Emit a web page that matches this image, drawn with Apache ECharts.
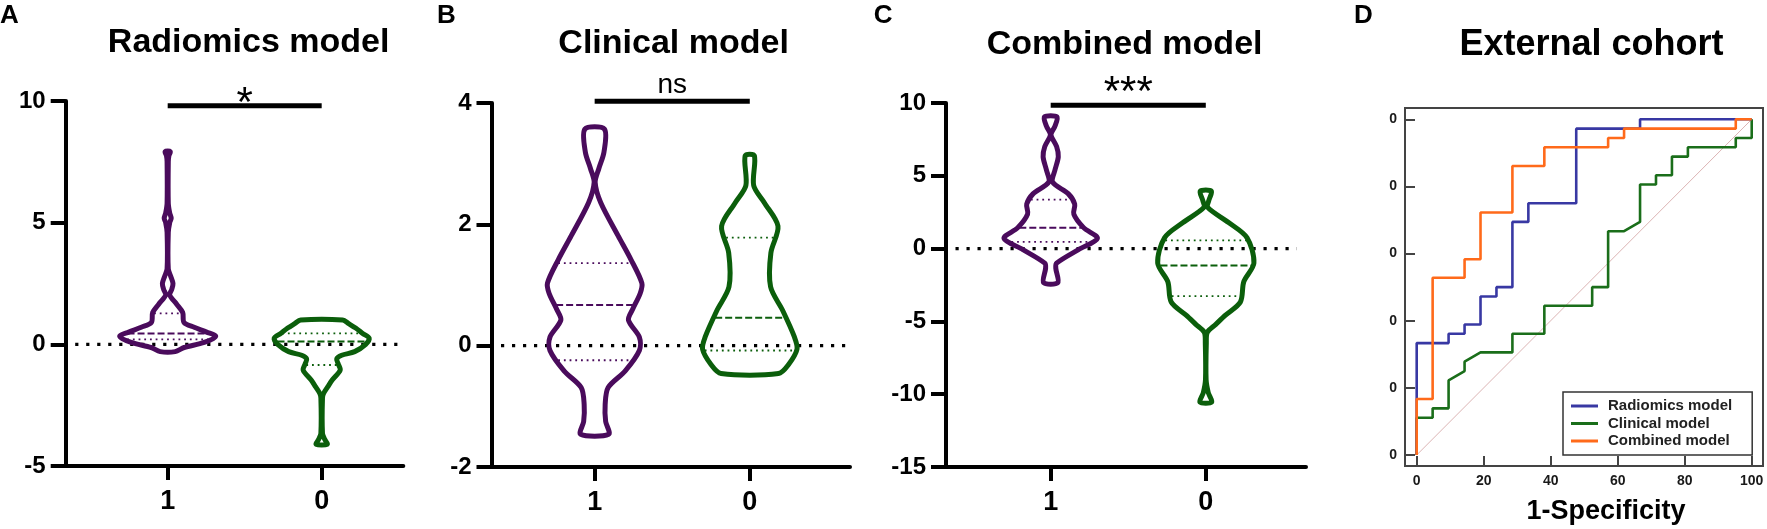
<!DOCTYPE html>
<html><head><meta charset="utf-8">
<script src="https://cdn.jsdelivr.net/npm/echarts@6/dist/echarts.min.js"></script>
<style>html,body{margin:0;padding:0;background:#fff}#c{width:1767px;height:529px}</style>
</head><body><div id="c"></div>
<script>
// ================= DATA =================
const categories = ['1', '0'];
const panelLetters = ['A', 'B', 'C', 'D'];
const panelTitles = ['Radiomics model', 'Clinical model', 'Combined model', 'External cohort'];
const significance = ['*', 'ns', '***'];
const sigLevel = [9.8, 4.03, 9.85];
const referenceValue = 0;

// violin density profiles: [value, relative half-width] bottom -> top
const radiomicsPos = [[-0.30,7.5],[-0.13,16.5],[0.08,36.5],[0.33,48],[0.5,39],[0.7,26.5],[0.9,16.3],[1.31,15],[1.65,9],[2.03,2],[2.25,4],[2.5,5.3],[2.8,3],[3.1,0.6],[4.6,0.6],[5.0,2],[5.18,3.5],[5.4,2],[5.8,0.6],[7.5,0.6],[7.75,1.2],[7.92,2.6]];
const radiomicsNeg = [[-4.11,5.5],[-3.9,3],[-3.66,0.8],[-2.2,0.8],[-2.01,2],[-1.75,6],[-1.47,10.5],[-1.06,18.5],[-0.8,16.5],[-0.6,15],[-0.45,20],[-0.3,33],[0.0,44],[0.25,47.5],[0.45,41],[0.67,34],[0.85,27],[1.0,21]];
const clinicalPos = [[-1.46,14],[-1.25,11],[-0.97,10.5],[-0.69,13.5],[-0.42,30.4],[-0.08,44.7],[0.14,44.7],[0.42,33.8],[0.6,38],[0.86,45.5],[1.03,47.2],[1.42,36.3],[1.81,23.5],[2.36,6],[2.69,0.5],[2.92,4.2],[3.19,9.3],[3.57,9.8]];
const clinicalNeg = [[-0.46,28.7],[-0.31,38.8],[-0.06,47.2],[0.14,44.7],[0.58,32.9],[0.97,20.8],[1.53,21.1],[1.97,28.2],[2.36,14.4],[2.64,3.9],[3.13,4.6]];
const combinedPos = [[-2.34,7.1],[-1.35,5.1],[-1.0,5.9],[-0.07,27.8],[0.70,46.7],[1.44,32.9],[2.37,23.1],[3.06,24],[3.76,17.7],[4.57,1.9],[5.38,4.2],[6.31,7.6],[7.01,5.9],[7.82,0.3],[8.40,4.2],[9.05,6.3]];
const combinedNeg = [[-10.55,5.9],[-9.9,2.5],[-9.0,0.3],[-6.5,0.5],[-5.75,1.5],[-5.2,10],[-4.59,19.4],[-3.67,34.6],[-2.27,38],[-1.0,48.1],[0.74,41.3],[1.79,22.8],[2.83,1.9],[3.3,3],[3.94,5.6]];

// quartiles [Q1, median, Q3]
const radiomicsPosQ = [0.2, 0.45, 1.27];
const radiomicsNegQ = [-0.85, 0.12, 0.45];
const clinicalPosQ = [-0.24, 0.67, 1.36];
const clinicalNegQ = [-0.08, 0.46, 1.78];
const combinedPosQ = [0.46, 1.44, 3.36];
const combinedNegQ = [-3.27, -1.16, 0.56];

// ROC curves (1-specificity, sensitivity) in %
const rocRadiomics = [[0,0],[0,33.33],[9.52,33.33],[9.52,36.11],[14.29,36.11],[14.29,38.89],[19.05,38.89],[19.05,47.22],[23.81,47.22],[23.81,50],[28.57,50],[28.57,69.44],[33.33,69.44],[33.33,75],[47.62,75],[47.62,97.22],[66.67,97.22],[66.67,100],[100,100]];
const rocClinical = [[0,0],[0,11.11],[4.76,11.11],[4.76,13.89],[9.52,13.89],[9.52,22.22],[14.29,25],[14.29,27.78],[19.05,30.56],[28.57,30.56],[28.57,36.11],[38.1,36.11],[38.1,44.44],[52.38,44.44],[52.38,50],[57.14,50],[57.14,66.67],[61.9,66.67],[66.67,69.44],[66.67,80.56],[71.43,80.56],[71.43,83.33],[76.19,83.33],[76.19,88.89],[80.95,88.89],[80.95,91.67],[95.24,91.67],[95.24,94.44],[100,94.44],[100,100]];
const rocCombined = [[0,0],[0,16.67],[4.76,16.67],[4.76,52.78],[14.29,52.78],[14.29,58.33],[19.05,58.33],[19.05,72.22],[28.57,72.22],[28.57,86.11],[38.1,86.11],[38.1,91.67],[57.14,91.67],[57.14,94.44],[61.9,94.44],[61.9,97.22],[95.24,97.22],[95.24,100],[100,100]];
const rocReference = [[0,0],[100,100]];
const rocSeriesNames = ['Radiomics model', 'Clinical model', 'Combined model'];
const rocTicks = [0, 20, 40, 60, 80, 100];
const rocYTickLabels = ['0', '0', '0', '0', '0', '0'];
const rocXTickLabels = ['0', '20', '40', '60', '80', '100'];
const rocXName = '1-Specificity';

// ================= STYLE =================
const FF = '"Liberation Sans", Arial, Helvetica, sans-serif';
const PURPLE = '#4a0b5c', GREEN = '#0b5e0b';
const ROC_BLUE = '#3838a3', ROC_GREEN = '#1a6e1a', ROC_ORANGE = '#ff6a1a';
const grids = [
  {left: 65.7, top: 101, width: 337.6, height: 365},
  {left: 491.5, top: 103, width: 358.5, height: 364},
  {left: 946, top: 103, width: 360, height: 364},
  {left: 1405, top: 108, width: 358, height: 358}
];
const xRanges = [[0.3377, 2.53], [0.335, 2.646], [0.325, 2.646]];
const yRanges = [[-5, 10, 5], [-2, 4, 2], [-15, 10, 5]];
const zeroInset = [[9.5, 1.7], [9.5, 0], [9.5, -9.3]];
const sigTextDy = [-1.8, -16.3, -11.3];
const sigFont = ['42px', '28px', '42px'];

const violins = [
  [0, 1, radiomicsPos, radiomicsPosQ, PURPLE], [0, 2, radiomicsNeg, radiomicsNegQ, GREEN],
  [1, 1, clinicalPos, clinicalPosQ, PURPLE], [1, 2, clinicalNeg, clinicalNegQ, GREEN],
  [2, 1, combinedPos, combinedPosQ, PURPLE], [2, 2, combinedNeg, combinedNegQ, GREEN]
];

function widthAt(profile, v) {
  for (let i = 0; i < profile.length - 1; i++) {
    const a = profile[i], b = profile[i + 1];
    if (v >= a[0] && v <= b[0]) return a[1] + (b[1] - a[1]) * (v - a[0]) / (b[0] - a[0]);
  }
  return 0;
}

const xAxes = [], yAxes = [], series = [];
for (let i = 0; i < 3; i++) {
  xAxes.push({
    gridIndex: i, type: 'value', min: xRanges[i][0], max: xRanges[i][1],
    axisLine: {show: true, onZero: false, lineStyle: {color: '#000', width: 4}},
    axisTick: {show: true, length: 14, customValues: [1, 2], lineStyle: {color: '#000', width: 4}},
    axisLabel: {customValues: [1, 2], formatter: v => categories[Math.round(v) - 1], margin: 22,
      fontSize: 27, fontWeight: 'bold', color: '#000', fontFamily: FF},
    splitLine: {show: false}
  });
  yAxes.push({
    gridIndex: i, type: 'value', min: yRanges[i][0], max: yRanges[i][1], interval: yRanges[i][2],
    axisLine: {show: true, onZero: false, lineStyle: {color: '#000', width: 4}},
    axisTick: {show: true, length: 15, lineStyle: {color: '#000', width: 4}},
    axisLabel: {margin: 20, fontSize: 24, fontWeight: 'bold', color: '#000', fontFamily: FF},
    splitLine: {show: false}
  });
  // zero reference dotted line
  series.push({
    type: 'custom', xAxisIndex: i, yAxisIndex: i, z: 1, clip: false, silent: true,
    data: [[xRanges[i][0], referenceValue]],
    renderItem: (function (idx) {
      return function (params, api) {
        const a = api.coord([xRanges[idx][0], referenceValue]);
        const b = api.coord([xRanges[idx][1], referenceValue]);
        return {type: 'line', shape: {x1: a[0] + zeroInset[idx][0], y1: a[1], x2: b[0] + zeroInset[idx][1], y2: b[1]},
          style: {stroke: '#000', lineWidth: 3.2, lineDash: [3.2, 7.8]}};
      };
    })(i)
  });
  // significance bar
  series.push({
    type: 'custom', xAxisIndex: i, yAxisIndex: i, z: 5, clip: false, silent: true,
    data: [[1.5, sigLevel[i]]],
    renderItem: (function (idx) {
      return function (params, api) {
        const a = api.coord([1, sigLevel[idx]]), b = api.coord([2, sigLevel[idx]]);
        return {type: 'group', children: [
          {type: 'line', shape: {x1: a[0], y1: a[1], x2: b[0], y2: b[1]}, style: {stroke: '#000', lineWidth: 5}},
          {type: 'text', x: (a[0] + b[0]) / 2, y: a[1] + sigTextDy[idx],
            style: {text: significance[idx], font: 'normal ' + sigFont[idx] + ' ' + FF, fill: '#000', align: 'center', verticalAlign: 'middle'}}
        ]};
      };
    })(i)
  });
}

violins.forEach(function (vd) {
  const [gi, cat, profile, quart, color] = vd;
  const pxPerUnit = grids[gi].width / (xRanges[gi][1] - xRanges[gi][0]);
  const k = 1 / pxPerUnit;
  series.push({
    type: 'custom', xAxisIndex: gi, yAxisIndex: gi, z: 3, clip: false, silent: true,
    data: [[cat, quart[1]]],
    renderItem: function (params, api) {
      const right = profile.map(p => api.coord([cat + p[1] * k, p[0]]));
      const left = profile.slice().reverse().map(p => api.coord([cat - p[1] * k, p[0]]));
      const children = [{type: 'polygon', shape: {points: right.concat(left), smooth: 0.3},
        style: {fill: 'none', stroke: color, lineWidth: 5, lineJoin: 'round'}}];
      quart.forEach(function (q, qi) {
        const w = widthAt(profile, q);
        const a = api.coord([cat - w * k, q]), b = api.coord([cat + w * k, q]);
        children.push({type: 'line', shape: {x1: a[0] + 1.5, y1: a[1], x2: b[0] - 1.5, y2: b[1]},
          style: {stroke: color, lineWidth: qi === 1 ? 2 : 1.8, lineDash: qi === 1 ? [7, 3] : [1.8, 3.9]}});
      });
      return {type: 'group', children: children};
    }
  });
});

// ROC panel axes
xAxes.push({
  gridIndex: 3, type: 'value', min: -3.49, max: 103.37,
  axisLine: {show: true, onZero: false, lineStyle: {color: '#444', width: 2}},
  axisTick: {show: true, inside: true, length: 10, customValues: rocTicks, lineStyle: {color: '#444', width: 2}},
  axisLabel: {customValues: rocTicks, formatter: v => rocXTickLabels[rocTicks.indexOf(Math.round(v))], margin: 8,
    fontSize: 14, fontWeight: 'bold', color: '#1a1a1a', fontFamily: FF},
  splitLine: {show: false}
});
yAxes.push({
  gridIndex: 3, type: 'value', min: -3.28, max: 103.37,
  axisLine: {show: true, onZero: false, lineStyle: {color: '#444', width: 2}},
  axisTick: {show: true, inside: true, length: 10, customValues: rocTicks, lineStyle: {color: '#444', width: 2}},
  axisLabel: {customValues: rocTicks, formatter: v => rocYTickLabels[rocTicks.indexOf(Math.round(v))], margin: 8,
    fontSize: 14, fontWeight: 'bold', color: '#1a1a1a', fontFamily: FF},
  splitLine: {show: false}
});
series.push({type: 'line', name: 'ref', xAxisIndex: 3, yAxisIndex: 3, data: rocReference, symbol: 'none', silent: true,
  lineStyle: {color: '#dcb4b4', width: 1}, z: 2});
series.push({type: 'line', name: rocSeriesNames[1], xAxisIndex: 3, yAxisIndex: 3, data: rocClinical, symbol: 'none',
  lineStyle: {color: ROC_GREEN, width: 2.6}, itemStyle: {color: ROC_GREEN}, z: 3});
series.push({type: 'line', name: rocSeriesNames[0], xAxisIndex: 3, yAxisIndex: 3, data: rocRadiomics, symbol: 'none',
  lineStyle: {color: ROC_BLUE, width: 2.6}, itemStyle: {color: ROC_BLUE}, z: 4});
series.push({type: 'line', name: rocSeriesNames[2], xAxisIndex: 3, yAxisIndex: 3, data: rocCombined, symbol: 'none',
  lineStyle: {color: ROC_ORANGE, width: 2.6}, itemStyle: {color: ROC_ORANGE}, z: 5});

const letterX = [0, 437, 873.7, 1354];
const titleX = [248.6, 673.6, 1124.6, 1591.5];
const titleY = [42.7, 43.7, 44.7, 45.5];
const titleSize = [34, 34, 34, 36];
const graphics = [];
for (let i = 0; i < 4; i++) {
  graphics.push({type: 'text', x: letterX[i], y: 15.5, style: {text: panelLetters[i], font: 'bold 26px ' + FF, fill: '#000', align: 'left', verticalAlign: 'middle'}});
  graphics.push({type: 'text', x: titleX[i], y: titleY[i], style: {text: panelTitles[i], font: 'bold ' + titleSize[i] + 'px ' + FF, fill: '#000', align: 'center', verticalAlign: 'middle'}});
}
graphics.push({type: 'text', x: 1606, y: 511.6, style: {text: rocXName, font: 'bold 27px ' + FF, fill: '#000', align: 'center', verticalAlign: 'middle'}});

const chart = echarts.init(document.getElementById('c'), null, {renderer: 'canvas'});
chart.setOption({
  animation: false,
  backgroundColor: '#fff',
  grid: grids.map((g, i) => Object.assign({}, g, i === 3 ? {show: true, borderColor: '#444', borderWidth: 2} : {})),
  xAxis: xAxes, yAxis: yAxes, series: series,
  legend: {data: rocSeriesNames, orient: 'vertical', left: 1563, top: 392, icon: 'rect', itemWidth: 27, itemHeight: 3, itemGap: 2.5,
    padding: [6.5, 20, 6.5, 8], borderColor: '#333', borderWidth: 1.5, backgroundColor: '#fff',
    textStyle: {fontSize: 15, fontWeight: 'bold', color: '#222', fontFamily: FF, padding: [0, 0, 0, 5]}},
  graphic: graphics
});
</script></body></html>
